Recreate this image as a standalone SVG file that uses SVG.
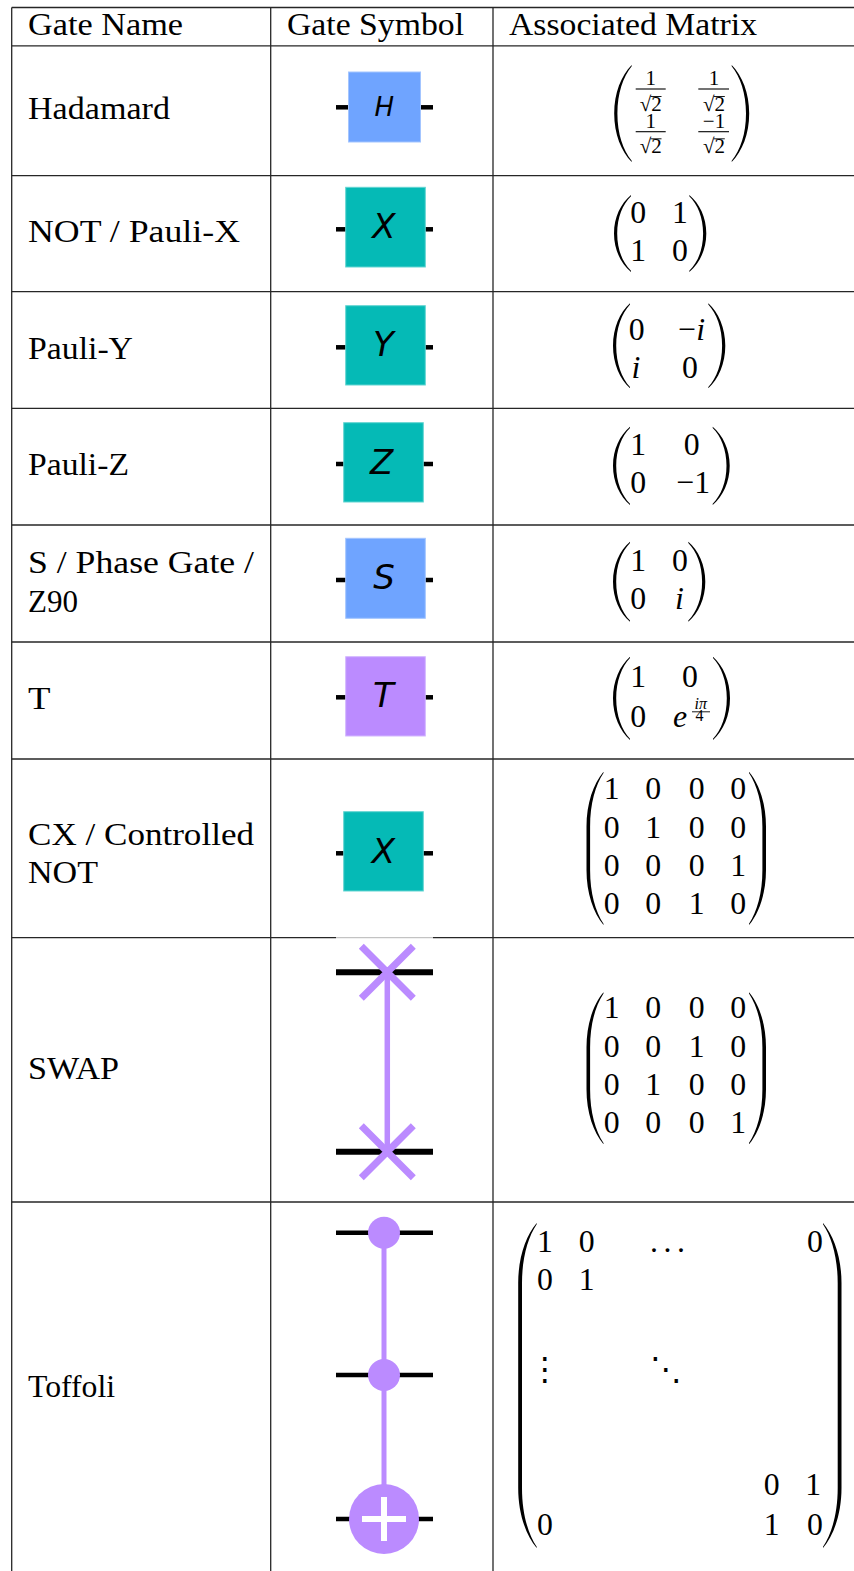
<svg xmlns="http://www.w3.org/2000/svg" width="854" height="1571" viewBox="0 0 854 1571">
<style>
text{font-family:'Liberation Serif','DejaVu Serif',serif}
.t{font-size:31.8px;fill:#000}
.m{font-size:31.8px;fill:#000;text-anchor:middle}
.s{font-size:21px;fill:#000;text-anchor:middle}
.it{font-style:italic}
text.dots{font-family:'DejaVu Sans',sans-serif;font-size:32px;fill:#000;text-anchor:middle}
text.g{font-family:'DejaVu Sans',sans-serif;font-style:italic;font-size:34px;fill:#000;text-anchor:middle}
.grid line{stroke:#262626;stroke-width:1.3}
.wire{stroke:#000;stroke-width:4.5}
.wire2{stroke:#000;stroke-width:6}
.blue{fill:#6FA4FF;stroke:#a3c5ff;stroke-width:1}
.teal{fill:#05BAB6;stroke:#63d5d2;stroke-width:1}
.purp{fill:#BB8BFF;stroke:#d3b6ff;stroke-width:1}
.pl{stroke:#BB8BFF;fill:none}
.bar{stroke:#000;stroke-width:1.1}
</style>
<defs>
<path id="pH" d="M0,0 C-10.5,10.67 -17.5,28.13 -17.5,48.5 C-17.5,68.87 -10.5,86.33 0,97 L0,95.8 C-8.58,85.36 -14.3,68.87 -14.3,48.5 C-14.3,28.13 -8.58,11.64 0,1.2 Z"/>
<path id="pX" d="M0,0 C-10.2,8.47 -17,22.33 -17,38.5 C-17,54.67 -10.2,68.53 0,77 L0,75.8 C-8.28,67.76 -13.8,54.67 -13.8,38.5 C-13.8,22.33 -8.28,9.24 0,1.2 Z"/>
<path id="pY" d="M0,0 C-10.2,9.35 -17,24.65 -17,42.5 C-17,60.35 -10.2,75.65 0,85 L0,83.8 C-8.28,74.8 -13.8,60.35 -13.8,42.5 C-13.8,24.65 -8.28,10.2 0,1.2 Z"/>
<path id="pZ" d="M0,0 C-10.2,8.61 -17,22.71 -17,39.15 C-17,55.59 -10.2,69.69 0,78.3 L0,77.1 C-8.28,68.9 -13.8,55.59 -13.8,39.15 C-13.8,22.71 -8.28,9.4 0,1.2 Z"/>
<path id="pS" d="M0,0 C-10.2,8.8 -17,23.2 -17,40 C-17,56.8 -10.2,71.2 0,80 L0,78.8 C-8.28,70.4 -13.8,56.8 -13.8,40 C-13.8,23.2 -8.28,9.6 0,1.2 Z"/>
<path id="pT" d="M0,0 C-10.2,9.16 -17,24.16 -17,41.65 C-17,59.14 -10.2,74.14 0,83.3 L0,82.1 C-8.28,73.3 -13.8,59.14 -13.8,41.65 C-13.8,24.16 -8.28,10 0,1.2 Z"/>
<path id="pCX" d="M0,0 C-10.2,12.1 -17,31.9 -17,55 L-17,98.3 C-17,121.4 -10.2,141.2 0,153.3 L0,152.1 C-8.04,140.1 -13.4,121.4 -13.4,98.3 L-13.4,55 C-13.4,31.9 -8.04,13.2 0,1.2 Z"/>
<path id="pSW" d="M0,0 C-10.2,12.1 -17,31.9 -17,55 L-17,97 C-17,120.1 -10.2,139.9 0,152 L0,150.8 C-8.04,138.8 -13.4,120.1 -13.4,97 L-13.4,55 C-13.4,31.9 -8.04,13.2 0,1.2 Z"/>
<path id="pTF" d="M0,0 C-11.1,13.2 -18.5,34.8 -18.5,60 L-18.5,265 C-18.5,290.2 -11.1,311.8 0,325 L0,323.8 C-8.82,310.6 -14.7,290.2 -14.7,265 L-14.7,60 C-14.7,34.8 -8.82,14.4 0,1.2 Z"/>
</defs>
<rect width="854" height="1571" fill="#fff"/>

<g id="grid" class="grid">
<line x1="11.7" y1="7.5" x2="854" y2="7.5"/>
<line x1="11.7" y1="45.8" x2="854" y2="45.8"/>
<line x1="11.7" y1="175.7" x2="854" y2="175.7"/>
<line x1="11.7" y1="291.7" x2="854" y2="291.7"/>
<line x1="11.7" y1="408.3" x2="854" y2="408.3"/>
<line x1="11.7" y1="525" x2="854" y2="525"/>
<line x1="11.7" y1="642" x2="854" y2="642"/>
<line x1="11.7" y1="759" x2="854" y2="759"/>
<line x1="11.7" y1="937.7" x2="854" y2="937.7"/>
<line x1="11.7" y1="1202" x2="854" y2="1202"/>
<line x1="11.7" y1="7.5" x2="11.7" y2="1571"/>
<line x1="270.7" y1="7.5" x2="270.7" y2="1571"/>
<line x1="493" y1="7.5" x2="493" y2="1571"/>
</g>

<g id="header">
<text class="t" x="28" y="35" textLength="155" lengthAdjust="spacingAndGlyphs">Gate Name</text>
<text class="t" x="287" y="35" textLength="177" lengthAdjust="spacingAndGlyphs">Gate Symbol</text>
<text class="t" x="509" y="35" textLength="248" lengthAdjust="spacingAndGlyphs">Associated Matrix</text>
</g>

<g id="row-hadamard">
<text class="t" x="28" y="119" textLength="142" lengthAdjust="spacingAndGlyphs">Hadamard</text>
<line class="wire" x1="336" y1="107.3" x2="349" y2="107.3"/>
<line class="wire" x1="420" y1="107.3" x2="433" y2="107.3"/>
<rect class="blue" x="348.5" y="72" width="72" height="70"/>
<text class="g" x="384.3" y="115.5" style="font-size:26px">H</text>
<use href="#pH" transform="translate(631.7,65)"/>
<use href="#pH" transform="translate(731.7,65) scale(-1,1)"/>
<text class="s"><tspan x="650.7" y="85">1</tspan><tspan x="650.7" y="111">√2</tspan><tspan x="650.7" y="128.3">1</tspan><tspan x="650.7" y="153.3">√2</tspan></text>
<text class="s"><tspan x="714" y="85">1</tspan><tspan x="714" y="111">√2</tspan><tspan x="714" y="128.3">−1</tspan><tspan x="714" y="153.3">√2</tspan></text>
<line class="bar" x1="635.7" y1="89" x2="665.7" y2="89"/>
<line class="bar" x1="698.3" y1="89" x2="729" y2="89"/>
<line class="bar" x1="635.7" y1="131.7" x2="665.7" y2="131.7"/>
<line class="bar" x1="698.3" y1="131.7" x2="729" y2="131.7"/>
<line class="bar" x1="650.5" y1="96.5" x2="661.5" y2="96.5" style="stroke-width:0.9"/>
<line class="bar" x1="713.8" y1="96.5" x2="724.8" y2="96.5" style="stroke-width:0.9"/>
<line class="bar" x1="650.5" y1="138.8" x2="661.5" y2="138.8" style="stroke-width:0.9"/>
<line class="bar" x1="713.8" y1="138.8" x2="724.8" y2="138.8" style="stroke-width:0.9"/>
</g>

<g id="row-paulix">
<text class="t" x="28" y="242" textLength="212" lengthAdjust="spacingAndGlyphs">NOT / Pauli-X</text>
<line class="wire" x1="336" y1="229.3" x2="346" y2="229.3"/>
<line class="wire" x1="425" y1="229.3" x2="433" y2="229.3"/>
<rect class="teal" x="345.7" y="187.3" width="79.6" height="79.7"/>
<text class="g" x="384" y="238.2">X</text>
<use href="#pX" transform="translate(631,195)"/>
<use href="#pX" transform="translate(689.3,195) scale(-1,1)"/>
<text class="m" x="638.3" y="222.7">0</text>
<text class="m" x="680" y="222.7">1</text>
<text class="m" x="638.3" y="260.7">1</text>
<text class="m" x="680" y="260.7">0</text>
</g>

<g id="row-pauliy">
<text class="t" x="28" y="358.5" textLength="105" lengthAdjust="spacingAndGlyphs">Pauli-Y</text>
<line class="wire" x1="336" y1="347.3" x2="346" y2="347.3"/>
<line class="wire" x1="425" y1="347.3" x2="433" y2="347.3"/>
<rect class="teal" x="345.7" y="305.7" width="79.6" height="79.3"/>
<text class="g" x="383.3" y="356.2">Y</text>
<use href="#pY" transform="translate(630,303.3)"/>
<use href="#pY" transform="translate(708.3,303.3) scale(-1,1)"/>
<text class="m" x="636.7" y="340">0</text>
<text class="m" x="691.7" y="340">−<tspan class="it">i</tspan></text>
<text class="m it" x="636" y="377.8">i</text>
<text class="m" x="690" y="377.8">0</text>
</g>

<g id="row-pauliz">
<text class="t" x="28" y="475" textLength="101" lengthAdjust="spacingAndGlyphs">Pauli-Z</text>
<line class="wire" x1="336" y1="464" x2="344" y2="464"/>
<line class="wire" x1="423" y1="464" x2="433" y2="464"/>
<rect class="teal" x="343.7" y="422.7" width="79.6" height="79.3"/>
<text class="g" x="381.7" y="473.8">Z</text>
<use href="#pZ" transform="translate(630,426.7)"/>
<use href="#pZ" transform="translate(712.7,426.7) scale(-1,1)"/>
<text class="m" x="638.3" y="455">1</text>
<text class="m" x="691.7" y="455">0</text>
<text class="m" x="638.3" y="493.3">0</text>
<text class="m" x="693.3" y="493.3">−1</text>
</g>

<g id="row-s">
<text class="t" x="28" y="573.3" textLength="226" lengthAdjust="spacingAndGlyphs">S / Phase Gate /</text>
<text class="t" x="28" y="611.7" textLength="50" lengthAdjust="spacingAndGlyphs">Z90</text>
<line class="wire" x1="336" y1="580" x2="346" y2="580"/>
<line class="wire" x1="425" y1="580" x2="433" y2="580"/>
<rect class="blue" x="345.7" y="538.3" width="79.6" height="80"/>
<text class="g" x="384" y="589.2">S</text>
<use href="#pS" transform="translate(630,541.7)"/>
<use href="#pS" transform="translate(688.3,541.7) scale(-1,1)"/>
<text class="m" x="638.3" y="570.7">1</text>
<text class="m" x="680" y="570.7">0</text>
<text class="m" x="638.3" y="609.3">0</text>
<text class="m it" x="679.3" y="609.3">i</text>
</g>

<g id="row-t">
<text class="t" x="28" y="709.3" textLength="22.5" lengthAdjust="spacingAndGlyphs">T</text>
<line class="wire" x1="336" y1="697.3" x2="346" y2="697.3"/>
<line class="wire" x1="425" y1="697.3" x2="433" y2="697.3"/>
<rect class="purp" x="345.7" y="656.7" width="79.6" height="79.3"/>
<text class="g" x="383.3" y="706.8">T</text>
<use href="#pT" transform="translate(630,656.7)"/>
<use href="#pT" transform="translate(713,656.7) scale(-1,1)"/>
<text class="m" x="638.3" y="686.7">1</text>
<text class="m" x="690" y="686.7">0</text>
<text class="m" x="638.3" y="726.7">0</text>
<text class="m it"><tspan x="680" y="726.7">e</tspan><tspan x="700.8" y="709" style="font-size:16px">iπ</tspan><tspan x="699.5" y="721" style="font-size:16px;font-style:normal">4</tspan></text>
<line class="bar" x1="692" y1="711.8" x2="710" y2="711.8" style="stroke-width:0.9"/>
</g>

<g id="row-cx">
<text class="t" x="28" y="845" textLength="226" lengthAdjust="spacingAndGlyphs">CX / Controlled</text>
<text class="t" x="28" y="882.7" textLength="70" lengthAdjust="spacingAndGlyphs">NOT</text>
<line class="wire" x1="336" y1="853.3" x2="344" y2="853.3"/>
<line class="wire" x1="423" y1="853.3" x2="433" y2="853.3"/>
<rect class="teal" x="343.7" y="811.7" width="79.6" height="79.3"/>
<text class="g" x="383.3" y="862.5">X</text>
<use href="#pCX" transform="translate(603.5,771.7)"/>
<use href="#pCX" transform="translate(749,771.7) scale(-1,1)"/>
<text class="m" x="611.7" y="799.3">1</text><text class="m" x="653.3" y="799.3">0</text><text class="m" x="696.7" y="799.3">0</text><text class="m" x="738.3" y="799.3">0</text>
<text class="m" x="611.7" y="837.7">0</text><text class="m" x="653.3" y="837.7">1</text><text class="m" x="696.7" y="837.7">0</text><text class="m" x="738.3" y="837.7">0</text>
<text class="m" x="611.7" y="876">0</text><text class="m" x="653.3" y="876">0</text><text class="m" x="696.7" y="876">0</text><text class="m" x="738.3" y="876">1</text>
<text class="m" x="611.7" y="914.3">0</text><text class="m" x="653.3" y="914.3">0</text><text class="m" x="696.7" y="914.3">1</text><text class="m" x="738.3" y="914.3">0</text>
</g>

<g id="row-swap">
<text class="t" x="28" y="1079.3" textLength="91" lengthAdjust="spacingAndGlyphs">SWAP</text>
<rect x="336" y="936" width="97" height="3.5" fill="#fff"/>
<line x1="336" y1="937.7" x2="433" y2="937.7" stroke="#b5b5b5" stroke-width="1"/>
<line class="wire2" x1="336" y1="972.3" x2="433" y2="972.3"/>
<line class="wire2" x1="336" y1="1151.7" x2="433" y2="1151.7"/>
<line class="pl" x1="387.3" y1="972.3" x2="387.3" y2="1151.7" stroke-width="5.5"/>
<path class="pl" stroke-width="7" d="M361.3,946.3 L413.3,998.3 M413.3,946.3 L361.3,998.3"/>
<path class="pl" stroke-width="7" d="M361.3,1125.7 L413.3,1177.7 M413.3,1125.7 L361.3,1177.7"/>
<use href="#pSW" transform="translate(603.5,992.3)"/>
<use href="#pSW" transform="translate(749,992.3) scale(-1,1)"/>
<text class="m" x="611.7" y="1018.3">1</text><text class="m" x="653.3" y="1018.3">0</text><text class="m" x="696.7" y="1018.3">0</text><text class="m" x="738.3" y="1018.3">0</text>
<text class="m" x="611.7" y="1056.7">0</text><text class="m" x="653.3" y="1056.7">0</text><text class="m" x="696.7" y="1056.7">1</text><text class="m" x="738.3" y="1056.7">0</text>
<text class="m" x="611.7" y="1095">0</text><text class="m" x="653.3" y="1095">1</text><text class="m" x="696.7" y="1095">0</text><text class="m" x="738.3" y="1095">0</text>
<text class="m" x="611.7" y="1133.3">0</text><text class="m" x="653.3" y="1133.3">0</text><text class="m" x="696.7" y="1133.3">0</text><text class="m" x="738.3" y="1133.3">1</text>
</g>

<g id="row-toffoli">
<text class="t" x="28" y="1396.7" textLength="87" lengthAdjust="spacingAndGlyphs">Toffoli</text>
<line class="wire" x1="336" y1="1232.7" x2="433" y2="1232.7"/>
<line class="wire" x1="336" y1="1375" x2="433" y2="1375"/>
<line class="wire" x1="336" y1="1519" x2="433" y2="1519"/>
<line class="pl" x1="384" y1="1232.7" x2="384" y2="1519" stroke-width="5"/>
<circle cx="384" cy="1232.7" r="16" fill="#BB8BFF"/>
<circle cx="384" cy="1375" r="16" fill="#BB8BFF"/>
<circle cx="384" cy="1519" r="35" fill="#BB8BFF"/>
<path d="M362,1519 H406 M384,1497 V1541" stroke="#fff" stroke-width="6"/>
<use href="#pTF" transform="translate(536.7,1223)"/>
<use href="#pTF" transform="translate(823,1223) scale(-1,1)"/>
<text class="m" x="545" y="1251.7">1</text>
<text class="m" x="586.7" y="1251.7">0</text>
<text class="t" x="650" y="1251.7" letter-spacing="5.5">...</text>
<text class="m" x="815" y="1251.7">0</text>
<text class="m" x="545" y="1290">0</text>
<text class="m" x="586.7" y="1290">1</text>
<text class="dots" x="545" y="1380">⋮</text>
<text class="dots" x="666" y="1380">⋱</text>
<text class="m" x="771.7" y="1495">0</text>
<text class="m" x="813.3" y="1495">1</text>
<text class="m" x="545" y="1535">0</text>
<text class="m" x="771.7" y="1535">1</text>
<text class="m" x="815" y="1535">0</text>
</g>
</svg>
